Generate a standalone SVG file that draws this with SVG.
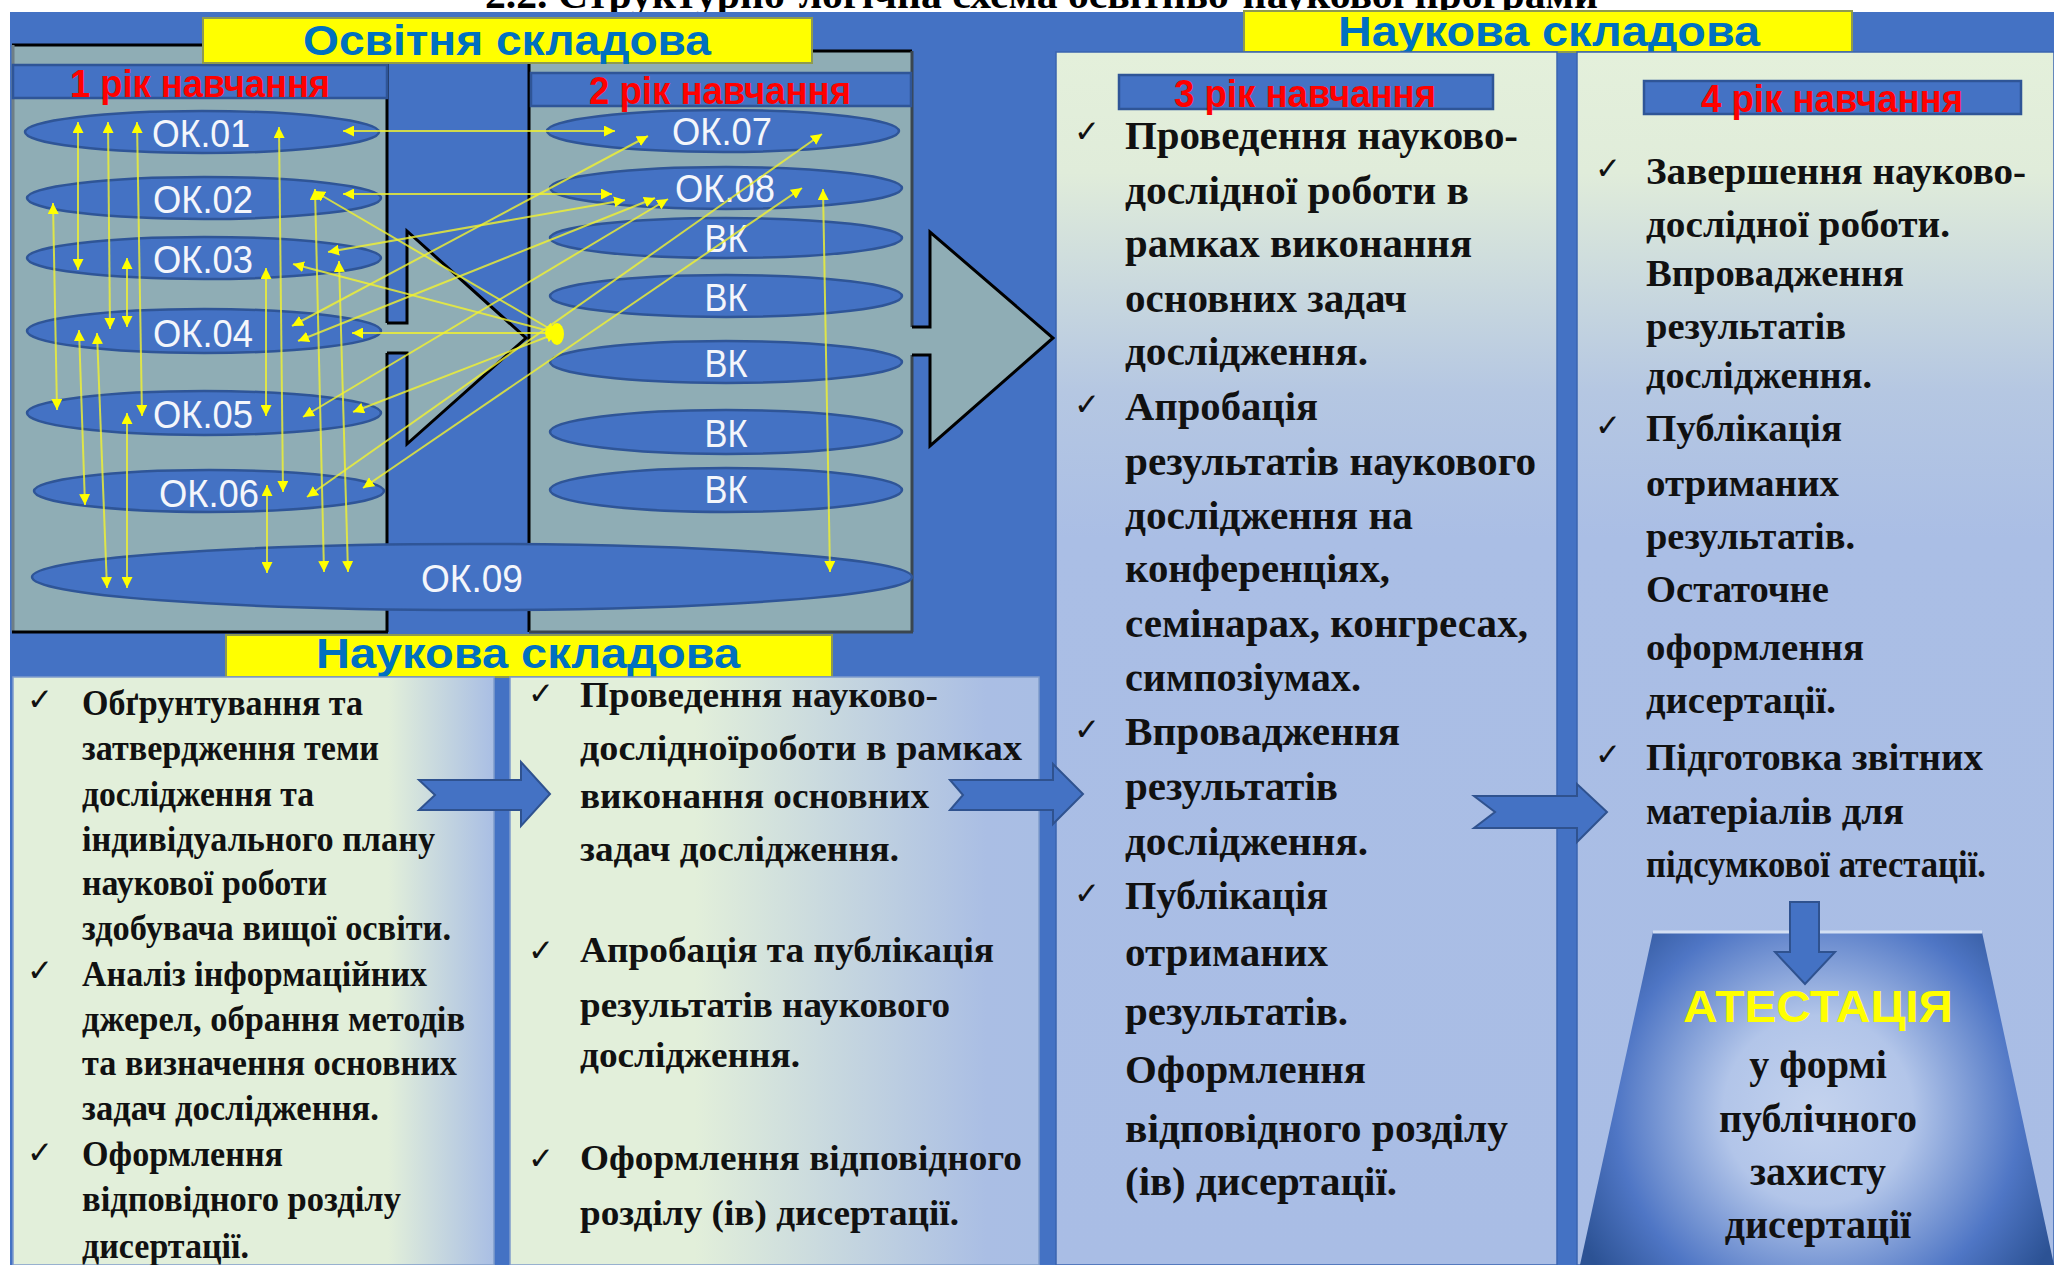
<svg xmlns="http://www.w3.org/2000/svg" width="2054" height="1265" viewBox="0 0 2054 1265">
<defs>
<style>
.bg{fill:#4472C4}
.panel{fill:#8FADB5}
.ell{fill:#4472C4;stroke:#2F5597;stroke-width:2.5}
.ok{font-family:"Liberation Sans",Arial,sans-serif;font-size:38px;fill:#F4F6FB;text-anchor:middle}
.red{font-family:"Liberation Sans",Arial,sans-serif;font-weight:bold;font-size:38px;fill:#FF0000;text-anchor:middle}
.hdr{font-family:"Liberation Sans",Arial,sans-serif;font-weight:bold;font-size:42px;fill:#0070C0;text-anchor:middle}
.ybox{fill:#FFFF00;stroke:#8E9A50;stroke-width:2}
.hbar{fill:#4472C4;stroke:#2F5597;stroke-width:2.5}
.tx{font-family:"Liberation Serif","Times New Roman",serif;font-weight:bold;fill:#111}
.a{font-size:35px}
.b{font-size:36px}
.c{font-size:40px}
.d{font-size:38px}
.chk{font-family:"DejaVu Sans",sans-serif;font-size:31px;fill:#111}
.blk{stroke:#000;stroke-width:3;fill:none}
.barrow{fill:#4472C4;stroke:#2F528F;stroke-width:2}
.conn line{stroke:#F2F22E;stroke-opacity:0.8;stroke-width:2;marker-start:url(#ya);marker-end:url(#ya)}
</style>
<marker id="ya" viewBox="0 0 10 10" refX="10" refY="5" markerWidth="11" markerHeight="11" markerUnits="userSpaceOnUse" orient="auto-start-reverse">
<path d="M0,0 L10,5 L0,10 z" fill="#FFFF00"/>
</marker>
<linearGradient id="gV" gradientUnits="userSpaceOnUse" x1="0" y1="52" x2="0" y2="1265">
<stop offset="0" stop-color="#E4F0DB"/>
<stop offset="0.1" stop-color="#E0ECDA"/>
<stop offset="0.28" stop-color="#B5C7E2"/>
<stop offset="0.4" stop-color="#AABEE5"/>
<stop offset="1" stop-color="#A9BDE5"/>
</linearGradient>
<linearGradient id="gA" gradientUnits="userSpaceOnUse" x1="13" y1="0" x2="494" y2="0">
<stop offset="0" stop-color="#E2EFDA"/>
<stop offset="0.78" stop-color="#E2EFDA"/>
<stop offset="1" stop-color="#A9BEE4"/>
</linearGradient>
<linearGradient id="gB" gradientUnits="userSpaceOnUse" x1="510" y1="0" x2="1039" y2="0">
<stop offset="0" stop-color="#E2EFDA"/>
<stop offset="0.35" stop-color="#E2EFDA"/>
<stop offset="0.9" stop-color="#AABEE4"/>
<stop offset="1" stop-color="#A9BEE4"/>
</linearGradient>
<radialGradient id="gR" gradientUnits="userSpaceOnUse" cx="1818" cy="1110" r="270">
<stop offset="0" stop-color="#C4D3EE"/>
<stop offset="0.35" stop-color="#B2C5E9"/>
<stop offset="0.75" stop-color="#4F76C5"/>
<stop offset="1" stop-color="#2C5294"/>
</radialGradient>
</defs>

<rect x="0" y="0" width="2054" height="1265" fill="#FFFFFF"/>
<text x="485" y="8" font-family="Liberation Serif, serif" font-weight="bold" font-size="40" fill="#000" textLength="1113" lengthAdjust="spacingAndGlyphs">2.2. Структурно-логічна схема освітньо-наукової програми</text>
<rect class="bg" x="10" y="12" width="2044" height="1253"/>

<!-- Panels of the educational part -->
<g id="panel-year1">
<rect class="panel" x="12" y="45" width="375" height="587"/>
<line x1="12" y1="45" x2="204" y2="45" stroke="#000" stroke-width="3"/>
<line x1="13" y1="45" x2="13" y2="632" stroke="#6E7E86" stroke-width="3"/>
<line x1="387" y1="63" x2="387" y2="323" stroke="#000" stroke-width="3"/>
<line x1="387" y1="353" x2="387" y2="632" stroke="#000" stroke-width="3"/>
<line x1="12" y1="632" x2="388" y2="632" stroke="#000" stroke-width="3"/>
<rect class="hbar" x="13" y="65" width="374" height="33"/>
<text class="red" x="200" y="97" textLength="260" lengthAdjust="spacingAndGlyphs">1 рік навчання</text>
</g>
<g id="panel-year2">
<rect class="panel" x="529" y="51" width="383" height="581"/>
<line x1="812" y1="51" x2="912" y2="51" stroke="#000" stroke-width="3"/>
<line x1="529" y1="63" x2="529" y2="632" stroke="#000" stroke-width="3"/>
<line x1="912" y1="51" x2="912" y2="327" stroke="#3A4650" stroke-width="3"/>
<line x1="912" y1="355" x2="912" y2="632" stroke="#3A4650" stroke-width="3"/>
<line x1="529" y1="632" x2="913" y2="632" stroke="#3A4650" stroke-width="3"/>
<rect class="hbar" x="531" y="73" width="380" height="33"/>
<text class="red" x="720" y="104" textLength="262" lengthAdjust="spacingAndGlyphs">2 рік навчання</text>
</g>

<!-- Big grey arrows -->
<g id="arrow-1-2">
<polygon fill="#8FADB5" points="385,323 407,323 407,231 526,338 407,444 407,353 385,353"/>
<path class="blk" d="M387,323 H407 V231 L526,338 L407,444 V353 H387"/>
</g>
<g id="arrow-2-3">
<polygon fill="#8FADB5" points="911,327 930,327 930,232 1053,338 930,446 930,355 911,355"/>
<path class="blk" d="M912,327 H930 V232 L1053,338 L930,446 V355 H912"/>
</g>

<!-- Yellow title boxes -->
<g id="title-osvitnia">
<rect class="ybox" x="203" y="18" width="609" height="45"/>
<text class="hdr" x="507" y="55" textLength="408" lengthAdjust="spacingAndGlyphs">Освітня складова</text>
</g>
<g id="title-naukova-top">
<rect class="ybox" x="1244" y="11" width="608" height="41"/>
<text class="hdr" x="1549" y="46" textLength="422" lengthAdjust="spacingAndGlyphs">Наукова складова</text>
</g>
<g id="title-naukova-bottom">
<rect class="ybox" x="226" y="635" width="606" height="42"/>
<text class="hdr" x="528" y="668" textLength="424" lengthAdjust="spacingAndGlyphs">Наукова складова</text>
</g>

<!-- Course ellipses -->
<g id="ok01"><ellipse class="ell" cx="202" cy="132" rx="177" ry="21"/><text class="ok" x="201" y="147" textLength="98" lengthAdjust="spacingAndGlyphs">ОК.01</text></g>
<g id="ok02"><ellipse class="ell" cx="204" cy="198" rx="177" ry="21"/><text class="ok" x="203" y="213" textLength="100" lengthAdjust="spacingAndGlyphs">ОК.02</text></g>
<g id="ok03"><ellipse class="ell" cx="204" cy="258" rx="177" ry="21"/><text class="ok" x="203" y="273" textLength="100" lengthAdjust="spacingAndGlyphs">ОК.03</text></g>
<g id="ok04"><ellipse class="ell" cx="204" cy="331" rx="177" ry="22"/><text class="ok" x="203" y="347" textLength="100" lengthAdjust="spacingAndGlyphs">ОК.04</text></g>
<g id="ok05"><ellipse class="ell" cx="204" cy="413" rx="177" ry="22"/><text class="ok" x="203" y="428" textLength="100" lengthAdjust="spacingAndGlyphs">ОК.05</text></g>
<g id="ok06"><ellipse class="ell" cx="209" cy="491" rx="175" ry="21"/><text class="ok" x="209" y="507" textLength="100" lengthAdjust="spacingAndGlyphs">ОК.06</text></g>
<g id="ok07"><ellipse class="ell" cx="723" cy="131" rx="176" ry="21"/><text class="ok" x="722" y="145" textLength="100" lengthAdjust="spacingAndGlyphs">ОК.07</text></g>
<g id="ok08"><ellipse class="ell" cx="726" cy="188" rx="176" ry="21"/><text class="ok" x="725" y="202" textLength="100" lengthAdjust="spacingAndGlyphs">ОК.08</text></g>
<g id="vk1"><ellipse class="ell" cx="726" cy="238" rx="176" ry="20"/><text class="ok" x="726" y="252" textLength="43" lengthAdjust="spacingAndGlyphs">ВК</text></g>
<g id="vk2"><ellipse class="ell" cx="726" cy="296" rx="176" ry="21"/><text class="ok" x="726" y="311" textLength="43" lengthAdjust="spacingAndGlyphs">ВК</text></g>
<g id="vk3"><ellipse class="ell" cx="726" cy="362" rx="176" ry="21"/><text class="ok" x="726" y="377" textLength="43" lengthAdjust="spacingAndGlyphs">ВК</text></g>
<g id="vk4"><ellipse class="ell" cx="726" cy="432" rx="176" ry="22"/><text class="ok" x="726" y="447" textLength="43" lengthAdjust="spacingAndGlyphs">ВК</text></g>
<g id="vk5"><ellipse class="ell" cx="726" cy="490" rx="176" ry="22"/><text class="ok" x="726" y="503" textLength="43" lengthAdjust="spacingAndGlyphs">ВК</text></g>
<g id="ok09"><ellipse class="ell" cx="472" cy="577" rx="440" ry="33"/><text class="ok" x="472" y="592" textLength="102" lengthAdjust="spacingAndGlyphs">ОК.09</text></g>

<!-- Connectors -->
<g id="connectors" class="conn">
<line x1="78" y1="122" x2="78" y2="270"/>
<line x1="108" y1="122" x2="110" y2="329"/>
<line x1="137" y1="122" x2="142" y2="416"/>
<line x1="279" y1="127" x2="283" y2="492"/>
<line x1="53" y1="203" x2="57" y2="410"/>
<line x1="127" y1="258" x2="127" y2="327"/>
<line x1="79" y1="330" x2="85" y2="505"/>
<line x1="97" y1="333" x2="107" y2="588"/>
<line x1="127" y1="413" x2="127" y2="588"/>
<line x1="266" y1="268" x2="266" y2="416"/>
<line x1="267" y1="485" x2="267" y2="573"/>
<line x1="315" y1="189" x2="324" y2="572"/>
<line x1="339" y1="261" x2="348" y2="572"/>
<line x1="823" y1="189" x2="830" y2="572"/>
<line x1="343" y1="131" x2="615" y2="131"/>
<line x1="343" y1="194" x2="612" y2="194"/>
<line x1="352" y1="333" x2="557" y2="333"/>
<line x1="314" y1="191" x2="557" y2="333"/>
<line x1="293" y1="264" x2="557" y2="333"/>
<line x1="328" y1="252" x2="625" y2="200"/>
<line x1="292" y1="326" x2="648" y2="136"/>
<line x1="298" y1="341" x2="655" y2="198"/>
<line x1="303" y1="417" x2="668" y2="199"/>
<line x1="353" y1="412" x2="557" y2="333"/>
<line x1="307" y1="497" x2="822" y2="134"/>
<line x1="363" y1="488" x2="802" y2="188"/>
<ellipse cx="557" cy="334" rx="7" ry="11" fill="#FFFF00"/>
</g>

<!-- Research part panels -->
<g id="year3">
<rect x="1056" y="52" width="501" height="1213" fill="url(#gV)" stroke="#3A64B0" stroke-width="1.5"/>
<rect class="hbar" x="1119" y="75" width="374" height="34"/>
<text class="red" x="1305" y="107" textLength="262" lengthAdjust="spacingAndGlyphs">3 рік навчання</text>
<text class="chk" x="1074" y="142">✓</text>
<text class="chk" x="1074" y="415">✓</text>
<text class="chk" x="1074" y="740">✓</text>
<text class="chk" x="1074" y="904">✓</text>
<g class="tx c">
<text x="1125" y="149" textLength="393" lengthAdjust="spacingAndGlyphs">Проведення науково-</text>
<text x="1125" y="204" textLength="344" lengthAdjust="spacingAndGlyphs">дослідної роботи в</text>
<text x="1125" y="257" textLength="347" lengthAdjust="spacingAndGlyphs">рамках виконання</text>
<text x="1125" y="312" textLength="282" lengthAdjust="spacingAndGlyphs">основних задач</text>
<text x="1125" y="365" textLength="243" lengthAdjust="spacingAndGlyphs">дослідження.</text>
<text x="1125" y="420" textLength="193" lengthAdjust="spacingAndGlyphs">Апробація</text>
<text x="1125" y="475" textLength="411" lengthAdjust="spacingAndGlyphs">результатів наукового</text>
<text x="1125" y="529" textLength="288" lengthAdjust="spacingAndGlyphs">дослідження на</text>
<text x="1125" y="582" textLength="265" lengthAdjust="spacingAndGlyphs">конференціях,</text>
<text x="1125" y="637" textLength="403" lengthAdjust="spacingAndGlyphs">семінарах, конгресах,</text>
<text x="1125" y="691" textLength="236" lengthAdjust="spacingAndGlyphs">симпозіумах.</text>
<text x="1125" y="745" textLength="275" lengthAdjust="spacingAndGlyphs">Впровадження</text>
<text x="1125" y="800" textLength="213" lengthAdjust="spacingAndGlyphs">результатів</text>
<text x="1125" y="855" textLength="243" lengthAdjust="spacingAndGlyphs">дослідження.</text>
<text x="1125" y="909" textLength="203" lengthAdjust="spacingAndGlyphs">Публікація</text>
<text x="1125" y="966" textLength="203" lengthAdjust="spacingAndGlyphs">отриманих</text>
<text x="1125" y="1025" textLength="223" lengthAdjust="spacingAndGlyphs">результатів.</text>
<text x="1125" y="1083" textLength="241" lengthAdjust="spacingAndGlyphs">Оформлення</text>
<text x="1125" y="1142" textLength="383" lengthAdjust="spacingAndGlyphs">відповідного розділу</text>
<text x="1125" y="1195" textLength="272" lengthAdjust="spacingAndGlyphs">(ів) дисертації.</text>
</g>
</g>

<g id="year4">
<rect x="1577" y="52" width="477" height="1213" fill="url(#gV)" stroke="#3A64B0" stroke-width="1.5"/>
<rect class="hbar" x="1644" y="81" width="377" height="33"/>
<text class="red" x="1832" y="112" textLength="262" lengthAdjust="spacingAndGlyphs">4 рік навчання</text>
<text class="chk" x="1595" y="179">✓</text>
<text class="chk" x="1595" y="436">✓</text>
<text class="chk" x="1595" y="765">✓</text>
<g class="tx d">
<text x="1646" y="184" textLength="380" lengthAdjust="spacingAndGlyphs">Завершення науково-</text>
<text x="1646" y="237" textLength="304" lengthAdjust="spacingAndGlyphs">дослідної роботи.</text>
<text x="1646" y="286" textLength="258" lengthAdjust="spacingAndGlyphs">Впровадження</text>
<text x="1646" y="339" textLength="200" lengthAdjust="spacingAndGlyphs">результатів</text>
<text x="1646" y="388" textLength="226" lengthAdjust="spacingAndGlyphs">дослідження.</text>
<text x="1646" y="441" textLength="196" lengthAdjust="spacingAndGlyphs">Публікація</text>
<text x="1646" y="496" textLength="193" lengthAdjust="spacingAndGlyphs">отриманих</text>
<text x="1646" y="549" textLength="209" lengthAdjust="spacingAndGlyphs">результатів.</text>
<text x="1646" y="602" textLength="183" lengthAdjust="spacingAndGlyphs">Остаточне</text>
<text x="1646" y="660" textLength="218" lengthAdjust="spacingAndGlyphs">оформлення</text>
<text x="1646" y="713" textLength="190" lengthAdjust="spacingAndGlyphs">дисертації.</text>
<text x="1646" y="770" textLength="337" lengthAdjust="spacingAndGlyphs">Підготовка звітних</text>
<text x="1646" y="824" textLength="258" lengthAdjust="spacingAndGlyphs">матеріалів для</text>
<text x="1646" y="877" textLength="340" lengthAdjust="spacingAndGlyphs">підсумкової атестації.</text>
</g>
</g>

<g id="year1-research">
<rect x="13" y="677" width="481" height="588" fill="url(#gA)" stroke="#7F9CCB" stroke-width="1.5"/>
<text class="chk" x="27" y="710">✓</text>
<text class="chk" x="27" y="981">✓</text>
<text class="chk" x="27" y="1163">✓</text>
<g class="tx a">
<text x="82" y="715" textLength="281" lengthAdjust="spacingAndGlyphs">Обґрунтування та</text>
<text x="82" y="760" textLength="297" lengthAdjust="spacingAndGlyphs">затвердження теми</text>
<text x="82" y="806" textLength="232" lengthAdjust="spacingAndGlyphs">дослідження та</text>
<text x="82" y="851" textLength="353" lengthAdjust="spacingAndGlyphs">індивідуального плану</text>
<text x="82" y="895" textLength="245" lengthAdjust="spacingAndGlyphs">наукової роботи</text>
<text x="82" y="940" textLength="369" lengthAdjust="spacingAndGlyphs">здобувача вищої освіти.</text>
<text x="82" y="986" textLength="345" lengthAdjust="spacingAndGlyphs">Аналіз інформаційних</text>
<text x="82" y="1031" textLength="383" lengthAdjust="spacingAndGlyphs">джерел, обрання методів</text>
<text x="82" y="1075" textLength="375" lengthAdjust="spacingAndGlyphs">та визначення основних</text>
<text x="82" y="1120" textLength="297" lengthAdjust="spacingAndGlyphs">задач дослідження.</text>
<text x="82" y="1166" textLength="201" lengthAdjust="spacingAndGlyphs">Оформлення</text>
<text x="82" y="1211" textLength="319" lengthAdjust="spacingAndGlyphs">відповідного розділу</text>
<text x="82" y="1258" textLength="167" lengthAdjust="spacingAndGlyphs">дисертації.</text>
</g>
</g>

<g id="year2-research">
<rect x="510" y="677" width="529" height="588" fill="url(#gB)" stroke="#7F9CCB" stroke-width="1.5"/>
<text class="chk" x="528" y="704">✓</text>
<text class="chk" x="528" y="961">✓</text>
<text class="chk" x="528" y="1169">✓</text>
<g class="tx b">
<text x="580" y="707" textLength="358" lengthAdjust="spacingAndGlyphs">Проведення науково-</text>
<text x="580" y="760" textLength="442" lengthAdjust="spacingAndGlyphs">дослідноїроботи в рамках</text>
<text x="580" y="808" textLength="349" lengthAdjust="spacingAndGlyphs">виконання основних</text>
<text x="580" y="861" textLength="319" lengthAdjust="spacingAndGlyphs">задач дослідження.</text>
<text x="580" y="962" textLength="414" lengthAdjust="spacingAndGlyphs">Апробація та публікація</text>
<text x="580" y="1017" textLength="370" lengthAdjust="spacingAndGlyphs">результатів наукового</text>
<text x="580" y="1067" textLength="220" lengthAdjust="spacingAndGlyphs">дослідження.</text>
<text x="580" y="1170" textLength="442" lengthAdjust="spacingAndGlyphs">Оформлення відповідного</text>
<text x="580" y="1225" textLength="379" lengthAdjust="spacingAndGlyphs">розділу (ів) дисертації.</text>
</g>
</g>

<!-- Attestation -->
<g id="attestation">
<polygon points="1653,932 1982,932 2054,1265 1580,1265" fill="url(#gR)"/>
<line x1="1653" y1="932" x2="1982" y2="932" stroke="#D3DFF3" stroke-width="3"/>
<text x="1818" y="1022" text-anchor="middle" font-family="Liberation Sans, Arial, sans-serif" font-weight="bold" font-size="44" fill="#FFFF00" textLength="270" lengthAdjust="spacingAndGlyphs">АТЕСТАЦІЯ</text>
<g class="tx" font-size="40" text-anchor="middle">
<text x="1818" y="1078">у формі</text>
<text x="1818" y="1132">публічного</text>
<text x="1818" y="1185">захисту</text>
<text x="1818" y="1238">дисертації</text>
</g>
</g>

<!-- Blue flow arrows -->
<g id="flow-arrows">
<polygon class="barrow" points="419,780 521,780 521,762 550,794 521,826 521,810 419,810 435,795"/>
<polygon class="barrow" points="950,780 1053,780 1053,764 1083,794 1053,824 1053,810 950,810 963,795"/>
<polygon class="barrow" points="1474,796 1577,796 1577,784 1607,812 1577,842 1577,828 1474,828 1495,812"/>
<polygon class="barrow" points="1790,902 1819,902 1819,952 1835,952 1805,984 1775,952 1790,952"/>
</g>
</svg>
